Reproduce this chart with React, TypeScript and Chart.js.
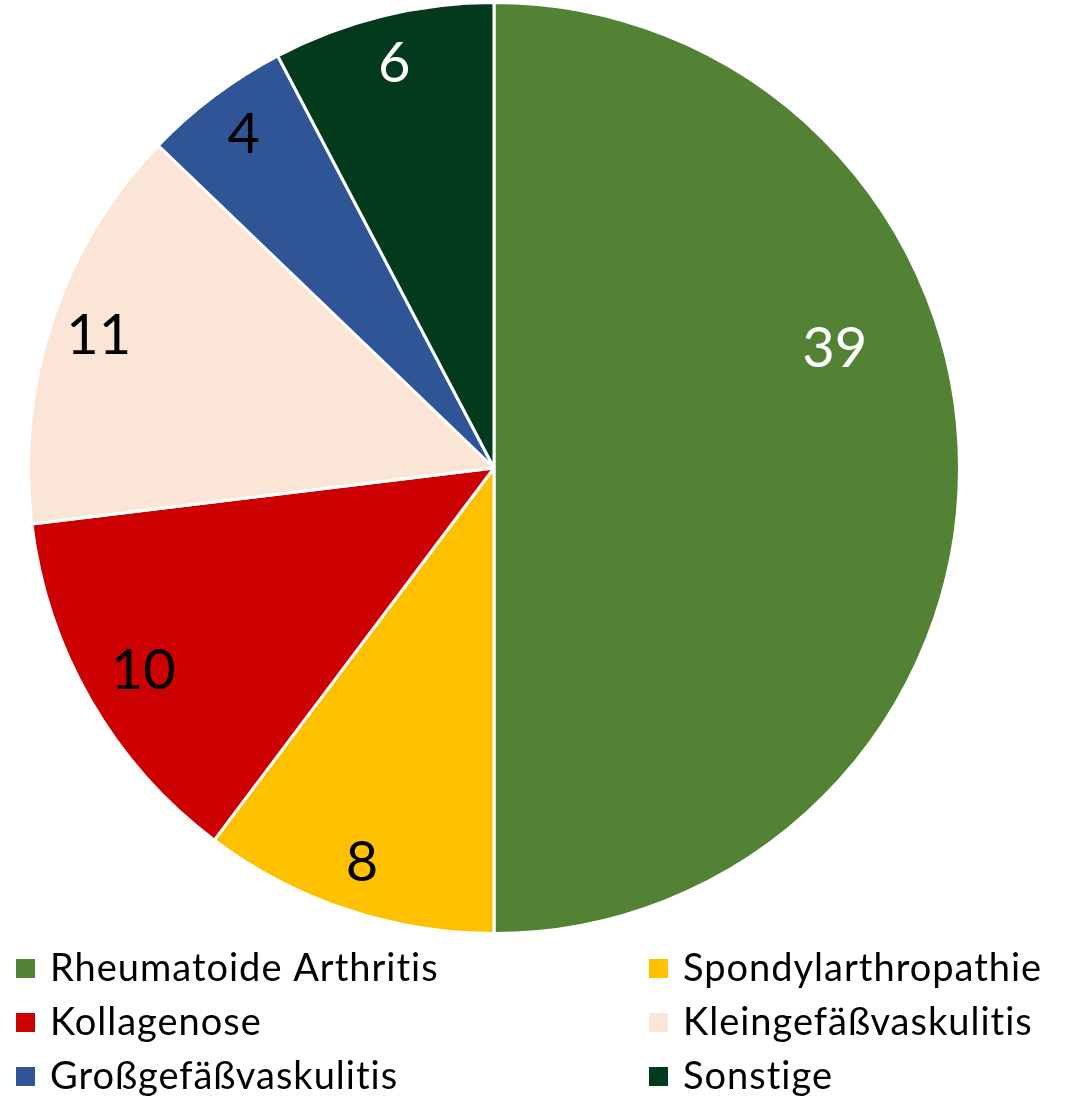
import React, { useEffect, useRef } from "react";
import { Chart, registerables } from "chart.js";

Chart.register(...registerables);

const categories = [
  "Rheumatoide Arthritis",
  "Spondylarthropathie",
  "Kollagenose",
  "Kleingefäßvaskulitis",
  "Großgefäßvaskulitis",
  "Sonstige",
];
const values = [39, 8, 10, 11, 4, 6];
const colors = ["#548235", "#FFC000", "#CC0000", "#FBE5D6", "#2F5597", "#033A1D"];
const labelColors = ["#FFFFFF", "#000000", "#000000", "#000000", "#000000", "#FFFFFF"];

const FONT = "Lato, 'Open Sans', sans-serif";

const labelPlugin = {
  id: "sliceLabels",
  afterDatasetsDraw(chart: any) {
    const ctx = chart.ctx;
    const meta = chart.getDatasetMeta(0);
    ctx.save();
    ctx.font = `56px ${FONT}`;
    ctx.textAlign = "center";
    ctx.textBaseline = "middle";
    meta.data.forEach((arc: any, i: number) => {
      const p = arc.getProps(["x", "y", "startAngle", "endAngle", "outerRadius"], true);
      let mid = (p.startAngle + p.endAngle) / 2;
      let frac = i === 2 ? 0.87 : 0.895;
      if (i === 0) {
        mid -= (19.2 * Math.PI) / 180;
        frac = 0.775;
      }
      const x = p.x + Math.cos(mid) * p.outerRadius * frac;
      const y = p.y + Math.sin(mid) * p.outerRadius * frac;
      ctx.fillStyle = labelColors[i];
      ctx.fillText(String(values[i]), x, y);
    });
    ctx.restore();
  },
};

const legendPlugin = {
  id: "gridLegend",
  afterDraw(chart: any) {
    const ctx = chart.ctx;
    ctx.save();
    ctx.font = `38px ${FONT}`;
    ctx.textBaseline = "middle";
    ctx.textAlign = "left";
    try {
      (ctx as any).letterSpacing = "1px";
    } catch (e) {}
    const colX = [16, 649];
    const rowY = [968, 1022, 1076];
    categories.forEach((c, i) => {
      const col = i % 2;
      const row = Math.floor(i / 2);
      const x = colX[col];
      const y = rowY[row];
      ctx.fillStyle = colors[i];
      ctx.fillRect(x, y - 9, 19, 19);
      ctx.fillStyle = "#000000";
      ctx.fillText(c, x + 34, y + 1);
    });
    ctx.restore();
  },
};

export default function App() {
  const ref = useRef<HTMLCanvasElement | null>(null);
  useEffect(() => {
    if (!ref.current) return;
    const chart = new Chart(ref.current, {
      type: "pie",
      data: {
        labels: categories,
        datasets: [
          {
            data: values,
            backgroundColor: colors,
            borderColor: "#FFFFFF",
            borderWidth: 3,
          },
        ],
      },
      options: {
        responsive: false,
        animation: false,
        layout: { padding: { left: 27, right: 108, top: 1, bottom: 162 } },
        plugins: {
          legend: { display: false },
          tooltip: { enabled: false },
        },
      },
      plugins: [labelPlugin, legendPlugin],
    });
    return () => chart.destroy();
  }, []);
  return (
    <div style={{ position: "absolute", left: 0, top: 0, width: 1069, height: 1097, background: "#fff" }}>
      <canvas ref={ref} width={1069} height={1097} style={{ width: 1069, height: 1097 }} />
    </div>
  );
}
